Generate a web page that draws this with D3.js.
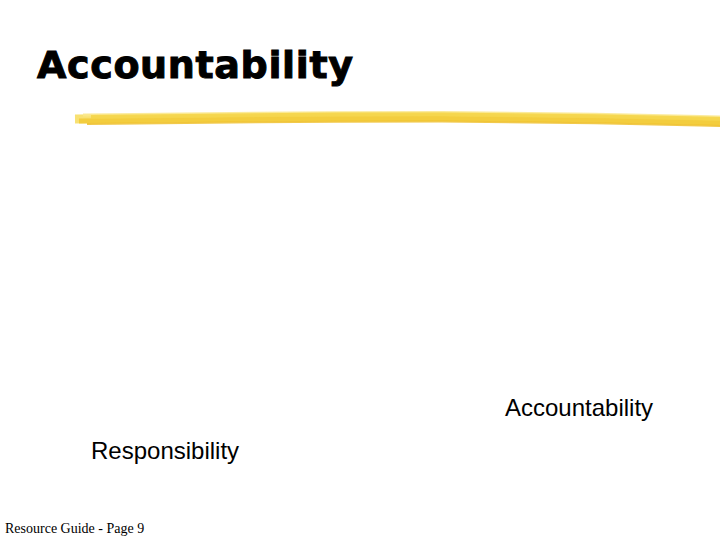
<!DOCTYPE html>
<html>
<head>
  <script src="https://d3js.org/d3.v7.min.js"></script>
  <meta charset='utf-8'>
  <style>body{margin:0;background:#fff}</style>
</head>
<body>
<div id="container"></div>
<script>
const width = 720, height = 540;
const title = "Accountability";
const labels = ["Accountability", "Responsibility"];
const footer = "Resource Guide - Page 9";
// brush stroke layers: colour, thickness, vertical offset
const strokeColors = ["#f7dc5a", "#f2c935", "#fae88c", "#efbf2c", "#f5d447"];
const strokeWidths = [9, 5, 3, 2, 4];
const strokeOffsets = [0, 2, -4, 5, -2];

const svg = d3.select("#container").append("svg")
  .attr("width", width).attr("height", height);

svg.append("text")
  .attr("x", 37).attr("y", 78)
  .attr("font-family", "'DejaVu Sans', Arial, sans-serif")
  .attr("font-weight", "bold")
  .attr("font-size", 38)
  .attr("stroke", "#000").attr("stroke-width", 1)
  .attr("textLength", 316)
  .text(title);

// yellow highlighter stroke under the title
const line = d3.line().curve(d3.curveBasis);
strokeColors.forEach((c, i) => {
  const y0 = 118 + strokeOffsets[i];
  svg.append("path")
    .attr("d", line([[75 + i * 4, y0 + 1], [250, y0 - 1], [450, y0 - 2], [600, y0], [720, y0 + 3]]))
    .attr("fill", "none")
    .attr("stroke", c)
    .attr("stroke-width", strokeWidths[i])
    .attr("opacity", 0.85);
});

const pos = [[505, 416], [91, 459]];
svg.selectAll("text.lab").data(labels).enter().append("text")
  .attr("class", "lab")
  .attr("x", (d, i) => pos[i][0]).attr("y", (d, i) => pos[i][1])
  .attr("font-family", "Arial, 'Liberation Sans', sans-serif")
  .attr("font-size", 24)
  .text(d => d);

svg.append("text")
  .attr("x", 5).attr("y", 533)
  .attr("font-family", "'Liberation Serif', 'Times New Roman', serif")
  .attr("font-size", 14)
  .text(footer);
</script>
</body>
</html>
